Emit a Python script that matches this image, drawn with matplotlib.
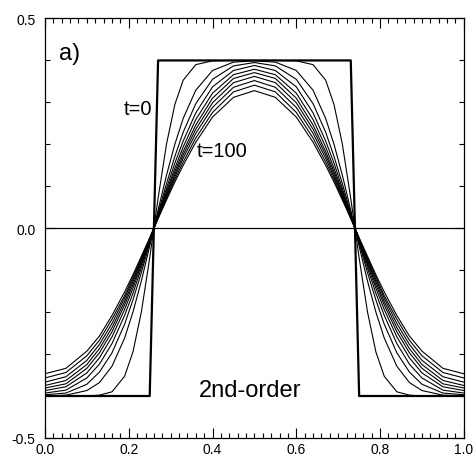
import matplotlib
matplotlib.use("Agg")
import matplotlib.pyplot as plt
from matplotlib.ticker import MultipleLocator, FixedLocator, FormatStrFormatter

plt.rcParams['font.family'] = ['Liberation Sans', 'DejaVu Sans']

# initial square wave (t=0)
x_t0 = [0.0, 0.25, 0.27, 0.73, 0.75, 1.0]
y_t0 = [-0.4, -0.4, 0.4, 0.4, -0.4, -0.4]

# sample positions
x = [0.0, 0.05, 0.10, 0.13, 0.16, 0.19, 0.21, 0.23, 0.25, 0.26, 0.27, 0.29,
     0.31, 0.33, 0.36, 0.40, 0.45, 0.50, 0.55, 0.60, 0.64, 0.67, 0.69, 0.71,
     0.73, 0.74, 0.75, 0.77, 0.79, 0.81, 0.84, 0.87, 0.90, 0.95, 1.0]

# profiles at t=10 ... t=100
y_t10 = [-0.400, -0.400, -0.400, -0.398, -0.390, -0.353, -0.295, -0.200, -0.071, 0.000, 0.071, 0.200,
         0.295, 0.353, 0.390, 0.399, 0.400, 0.400, 0.400, 0.399, 0.390, 0.353, 0.295, 0.200,
         0.071, 0.000, -0.071, -0.200, -0.295, -0.353, -0.390, -0.398, -0.400, -0.400, -0.400]
y_t20 = [-0.400, -0.398, -0.387, -0.368, -0.329, -0.262, -0.200, -0.126, -0.043, 0.000, 0.043, 0.126,
         0.200, 0.262, 0.329, 0.376, 0.396, 0.399, 0.396, 0.376, 0.329, 0.262, 0.200, 0.126,
         0.043, 0.000, -0.043, -0.126, -0.200, -0.262, -0.329, -0.368, -0.387, -0.398, -0.400]
y_t30 = [-0.397, -0.393, -0.372, -0.343, -0.297, -0.229, -0.171, -0.106, -0.036, 0.000, 0.036, 0.106,
         0.171, 0.229, 0.297, 0.355, 0.387, 0.395, 0.387, 0.355, 0.297, 0.229, 0.171, 0.106,
         0.036, 0.000, -0.036, -0.106, -0.171, -0.229, -0.297, -0.343, -0.372, -0.393, -0.397]
y_t40 = [-0.393, -0.386, -0.357, -0.324, -0.275, -0.208, -0.155, -0.095, -0.032, 0.000, 0.032, 0.095,
         0.155, 0.208, 0.275, 0.337, 0.376, 0.388, 0.376, 0.337, 0.275, 0.208, 0.155, 0.095,
         0.032, 0.000, -0.032, -0.095, -0.155, -0.208, -0.275, -0.324, -0.357, -0.386, -0.393]
y_t50 = [-0.387, -0.378, -0.345, -0.309, -0.259, -0.194, -0.143, -0.088, -0.030, 0.000, 0.030, 0.088,
         0.143, 0.194, 0.259, 0.322, 0.366, 0.379, 0.366, 0.322, 0.259, 0.194, 0.143, 0.088,
         0.030, 0.000, -0.030, -0.088, -0.143, -0.194, -0.259, -0.309, -0.345, -0.378, -0.387]
y_t60 = [-0.381, -0.371, -0.334, -0.297, -0.247, -0.183, -0.135, -0.083, -0.028, 0.000, 0.028, 0.083,
         0.135, 0.183, 0.246, 0.310, 0.357, 0.371, 0.357, 0.310, 0.246, 0.183, 0.135, 0.083,
         0.028, 0.000, -0.028, -0.083, -0.135, -0.183, -0.247, -0.297, -0.334, -0.371, -0.381]
y_t70 = [-0.375, -0.363, -0.325, -0.287, -0.237, -0.175, -0.128, -0.078, -0.026, 0.000, 0.026, 0.078,
         0.128, 0.175, 0.236, 0.299, 0.347, 0.362, 0.347, 0.299, 0.236, 0.175, 0.128, 0.078,
         0.026, 0.000, -0.026, -0.078, -0.128, -0.175, -0.237, -0.287, -0.325, -0.363, -0.375]
y_t80 = [-0.367, -0.354, -0.315, -0.277, -0.227, -0.167, -0.122, -0.075, -0.025, 0.000, 0.025, 0.075,
         0.122, 0.167, 0.226, 0.288, 0.336, 0.352, 0.336, 0.288, 0.226, 0.167, 0.122, 0.075,
         0.025, 0.000, -0.025, -0.075, -0.122, -0.167, -0.227, -0.277, -0.315, -0.354, -0.367]
y_t90 = [-0.357, -0.344, -0.304, -0.267, -0.217, -0.161, -0.116, -0.071, -0.024, 0.000, 0.024, 0.071,
         0.116, 0.158, 0.215, 0.276, 0.325, 0.341, 0.325, 0.276, 0.215, 0.158, 0.116, 0.071,
         0.024, 0.000, -0.024, -0.071, -0.116, -0.161, -0.217, -0.267, -0.304, -0.344, -0.357]
y_t100 = [-0.347, -0.334, -0.293, -0.257, -0.208, -0.152, -0.111, -0.067, -0.023, 0.000, 0.023, 0.067,
          0.110, 0.150, 0.205, 0.265, 0.312, 0.328, 0.312, 0.265, 0.205, 0.150, 0.110, 0.067,
          0.023, 0.000, -0.023, -0.067, -0.111, -0.152, -0.208, -0.257, -0.293, -0.334, -0.347]

profiles = [y_t10, y_t20, y_t30, y_t40, y_t50, y_t60, y_t70, y_t80, y_t90, y_t100]

fig = plt.figure(figsize=(4.76, 4.64), dpi=100)
ax = fig.add_axes([0.0945, 0.054, 0.880, 0.904])

ax.axhline(0.0, color='black', lw=0.9)
for y in profiles:
    ax.plot(x, y, color='black', lw=0.8)
ax.plot(x_t0, y_t0, color='black', lw=1.6)

ax.set_xlim(0, 1)
ax.set_ylim(-0.5, 0.5)

ax.xaxis.set_major_locator(MultipleLocator(0.2))
ax.xaxis.set_minor_locator(MultipleLocator(0.02))
ax.yaxis.set_major_locator(FixedLocator([-0.5, 0.0, 0.5]))
ax.yaxis.set_minor_locator(MultipleLocator(0.1))
ax.xaxis.set_major_formatter(FormatStrFormatter('%.1f'))
ax.yaxis.set_major_formatter(FormatStrFormatter('%.1f'))

ax.tick_params(which='both', direction='in', top=True, right=True,
               width=0.8, labelsize=10)
ax.tick_params(which='major', length=7)
ax.tick_params(which='minor', length=3.5)
ax.tick_params(axis='x', pad=3)
ax.tick_params(axis='y', pad=7)
for s in ax.spines.values():
    s.set_linewidth(0.9)

ax.text(0.033, 0.403, 'a)', fontsize=17, ha='left', va='baseline')
ax.text(0.1885, 0.272, 't=0', fontsize=14.5, ha='left', va='baseline')
ax.text(0.363, 0.172, 't=100', fontsize=14.5, ha='left', va='baseline')
ax.text(0.368, -0.399, '2nd-order', fontsize=17, ha='left', va='baseline')

fig.savefig('out.png', dpi=100)
